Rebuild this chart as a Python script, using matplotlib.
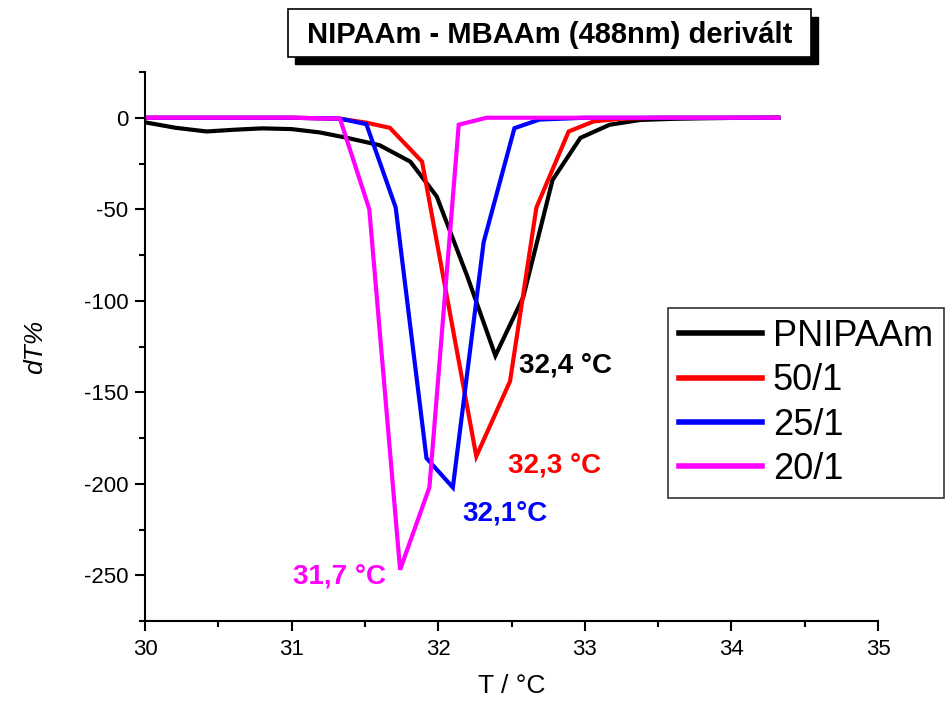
import matplotlib
matplotlib.use("Agg")
import matplotlib.pyplot as plt
from matplotlib.ticker import MultipleLocator
from matplotlib.patches import Rectangle

plt.rcParams['font.family'] = ['Liberation Sans', 'DejaVu Sans']
plt.rcParams['axes.unicode_minus'] = False

# ---- data ----
x_pnipaam = [30.0, 30.21, 30.42, 30.62, 30.8, 31.0, 31.19, 31.38, 31.6, 31.81, 31.99,
             32.2, 32.39, 32.58, 32.78, 32.97, 33.17, 33.38, 33.6, 33.8, 34.0, 34.32]
y_pnipaam = [-2.5, -5.5, -7.5, -6.5, -5.8, -6.2, -8, -11, -15, -24, -43,
             -87, -130, -98, -34, -11, -3.8, -1.2, -0.6, -0.3, -0.1, 0]

x_50 = [30.0, 30.5, 31.0, 31.33, 31.51, 31.67, 31.89, 32.26, 32.49, 32.67, 32.89,
        33.06, 33.25, 33.5, 34.0, 34.32]
y_50 = [0, 0, 0, -0.5, -2.7, -5.5, -24, -185, -144, -49, -7.5,
        -2, -0.5, 0, 0, 0]

x_25 = [30.0, 30.5, 31.0, 31.33, 31.51, 31.71, 31.92, 32.1, 32.31, 32.52, 32.69,
        33.0, 33.5, 34.0, 34.32]
y_25 = [0, 0, 0, -0.5, -3.5, -49, -186, -202, -68, -5.7, -1,
        0, 0, 0, 0]

x_20 = [30.0, 30.5, 31.0, 31.33, 31.53, 31.74, 31.94, 32.14, 32.33, 33.0, 33.5, 34.0, 34.32]
y_20 = [0, 0, 0, -0.5, -50, -247, -202, -3.8, 0, 0, 0, 0, 0]

series_labels = ["PNIPAAm", "50/1", "25/1", "20/1"]
series_colors = ["#000000", "#ff0000", "#0000ff", "#ff00ff"]

peak_labels = ["32,4 °C", "32,3 °C", "32,1°C", "31,7 °C"]
peak_x = [32.551, 32.476, 32.163, 31.01]
peak_y = [-135.5, -190, -216.5, -250.5]

title = "NIPAAm - MBAAm (488nm) derivált"

# ---- figure ----
W, H = 951, 711
fig = plt.figure(figsize=(W/100, H/100), dpi=100)
ax = fig.add_axes([145/W, 1-621/H, 733/W, 549/H])

xs = [x_pnipaam, x_50, x_25, x_20]
ys = [y_pnipaam, y_50, y_25, y_20]
for xv, yv, lab, col in zip(xs, ys, series_labels, series_colors):
    ax.plot(xv, yv, color=col, lw=3, label=lab, solid_joinstyle='miter')

for px, py, txt, col in zip(peak_x, peak_y, peak_labels, series_colors):
    ax.text(px, py, txt, color=col, fontsize=20, fontweight='bold', va='center', ha='left')

ax.set_xlim(30, 35)
ax.set_ylim(-275, 25)
ax.xaxis.set_major_locator(MultipleLocator(1))
ax.xaxis.set_minor_locator(MultipleLocator(0.5))
ax.yaxis.set_major_locator(MultipleLocator(50))
ax.yaxis.set_minor_locator(MultipleLocator(25))
ax.spines['top'].set_visible(False)
ax.spines['right'].set_visible(False)
for s in ['left', 'bottom']:
    ax.spines[s].set_linewidth(1.5)
ax.tick_params(which='major', direction='out', length=7, width=1.5, labelsize=16)
ax.tick_params(which='minor', direction='out', length=4, width=1.5)
ax.tick_params(axis='x', pad=6)
ax.tick_params(axis='y', pad=5)

ax.set_xlabel("T / °C", fontsize=19, labelpad=10)
ax.set_ylabel("dT%", fontsize=19, fontstyle='italic', labelpad=26)

leg = ax.legend(loc='upper left', bbox_to_anchor=(668/W, 1-308/H),
                bbox_transform=fig.transFigure, fontsize=26, frameon=True,
                fancybox=False, edgecolor='black', handlelength=2.3,
                handletextpad=0.3, labelspacing=0.26, borderpad=0.3,
                borderaxespad=0)
leg.get_frame().set_linewidth(1.2)
for line in leg.get_lines():
    line.set_linewidth(4)

# title with shadow box
fig.patches.append(Rectangle((295/W, 1-64/H), 523/W, 47/H, transform=fig.transFigure,
                             facecolor='black', edgecolor='black', zorder=1))
fig.patches.append(Rectangle((288/W, 1-57/H), 523/W, 48/H, transform=fig.transFigure,
                             facecolor='white', edgecolor='black', lw=1.2, zorder=2))
fig.text(549.5/W, 1-43/H, title, fontsize=21, fontweight='bold',
         ha='center', va='baseline', zorder=3)

fig.savefig("out.png", dpi=100)
